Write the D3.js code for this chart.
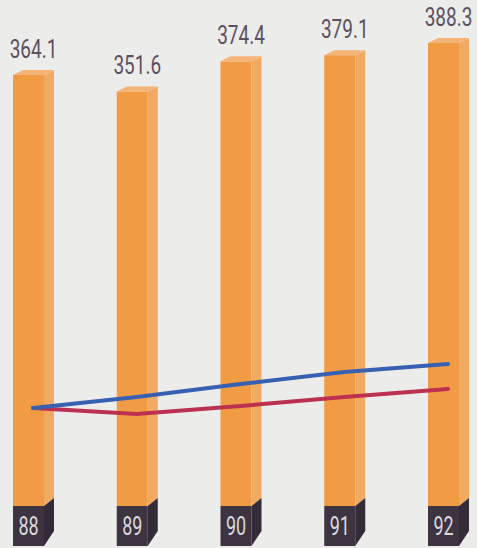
<!DOCTYPE html>
<html>
<head>
<meta charset="utf-8">
<script src="https://cdn.jsdelivr.net/npm/d3@7"></script>
<style>
  html, body { margin: 0; padding: 0; background: #ECECEA; }
  svg { display: block; }
</style>
</head>
<body>
<div id="chart"></div>
<script>
// ---- data ----
const years = ["88", "89", "90", "91", "92"];
const barValues = [364.1, 351.6, 374.4, 379.1, 388.3];
const blueIndex = [100, 102.75, 106, 109, 111];
const redIndex = [100, 98.5, 100.5, 102.75, 104.75];

const W = 477, H = 548;
const svg = d3.select("#chart").append("svg").attr("width", W).attr("height", H);
svg.append("rect").attr("width", W).attr("height", H).attr("fill", "#ECECEA");

const x = d3.scalePoint().domain(years).range([33, 448]);
const y = d3.scaleLinear().domain([0, 388.3]).range([556, 43]);
const yLine = d3.scaleLinear().domain([100, 110]).range([408, 368]);

const frontW = 31, sideW = 10, depth = 5;
const boxTop = 506, boxBottom = 546;

const colors = {
  front: "#F19C45",
  side: "#F2AA62",
  top: "#F5B579",
  dark: "#3D3341",
  darkSide: "#342B38",
  label: "#5C5063",
  boxText: "#DCD9DC"
};

const g = svg.append("g");
years.forEach((yr, i) => {
  const c = x(yr);
  const L = c - 20, R = L + frontW;
  const top = y(barValues[i]);
  // front face
  g.append("rect").attr("x", L).attr("y", top).attr("width", frontW)
    .attr("height", boxTop - top).attr("fill", colors.front);
  // side face
  g.append("path").attr("d", `M${R},${top} L${R + sideW},${top - depth} L${R + sideW},${boxTop - 8} L${R},${boxTop} Z`)
    .attr("fill", colors.side);
  // top face
  g.append("path").attr("d", `M${L},${top} L${L + sideW},${top - depth} L${R + sideW},${top - depth} L${R},${top} Z`)
    .attr("fill", colors.top);
  // dark label box
  g.append("rect").attr("x", L).attr("y", boxTop).attr("width", frontW)
    .attr("height", boxBottom - boxTop).attr("fill", colors.dark);
  g.append("path").attr("d", `M${R},${boxTop} L${R + sideW},${boxTop - 8} L${R + sideW},${boxBottom - 15} L${R},${boxBottom} Z`)
    .attr("fill", colors.darkSide);
  // year label
  g.append("text").attr("transform", `translate(${L + frontW / 2},${boxBottom - 11}) scale(0.72,1)`)
    .attr("text-anchor", "middle").attr("font-family", "Roboto, 'Liberation Sans', sans-serif")
    .attr("font-size", 25).attr("fill", colors.boxText).text(yr);
  // value label
  g.append("text").attr("transform", `translate(${L + (frontW + sideW) / 2},${top - 17}) scale(0.76,1)`)
    .attr("text-anchor", "middle").attr("font-family", "Roboto, 'Liberation Sans', sans-serif")
    .attr("font-size", 25).attr("fill", colors.label).text(barValues[i].toFixed(1));
});

const line = (vals) => d3.line().x((d, i) => x(years[i])).y(d => yLine(d))(vals);
svg.append("path").attr("d", line(redIndex)).attr("fill", "none")
  .attr("stroke", "#BC3150").attr("stroke-width", 4).attr("stroke-linejoin", "round").attr("stroke-linecap", "round");
svg.append("path").attr("d", line(blueIndex)).attr("fill", "none")
  .attr("stroke", "#3760B0").attr("stroke-width", 4).attr("stroke-linejoin", "round").attr("stroke-linecap", "round");
</script>
</body>
</html>
